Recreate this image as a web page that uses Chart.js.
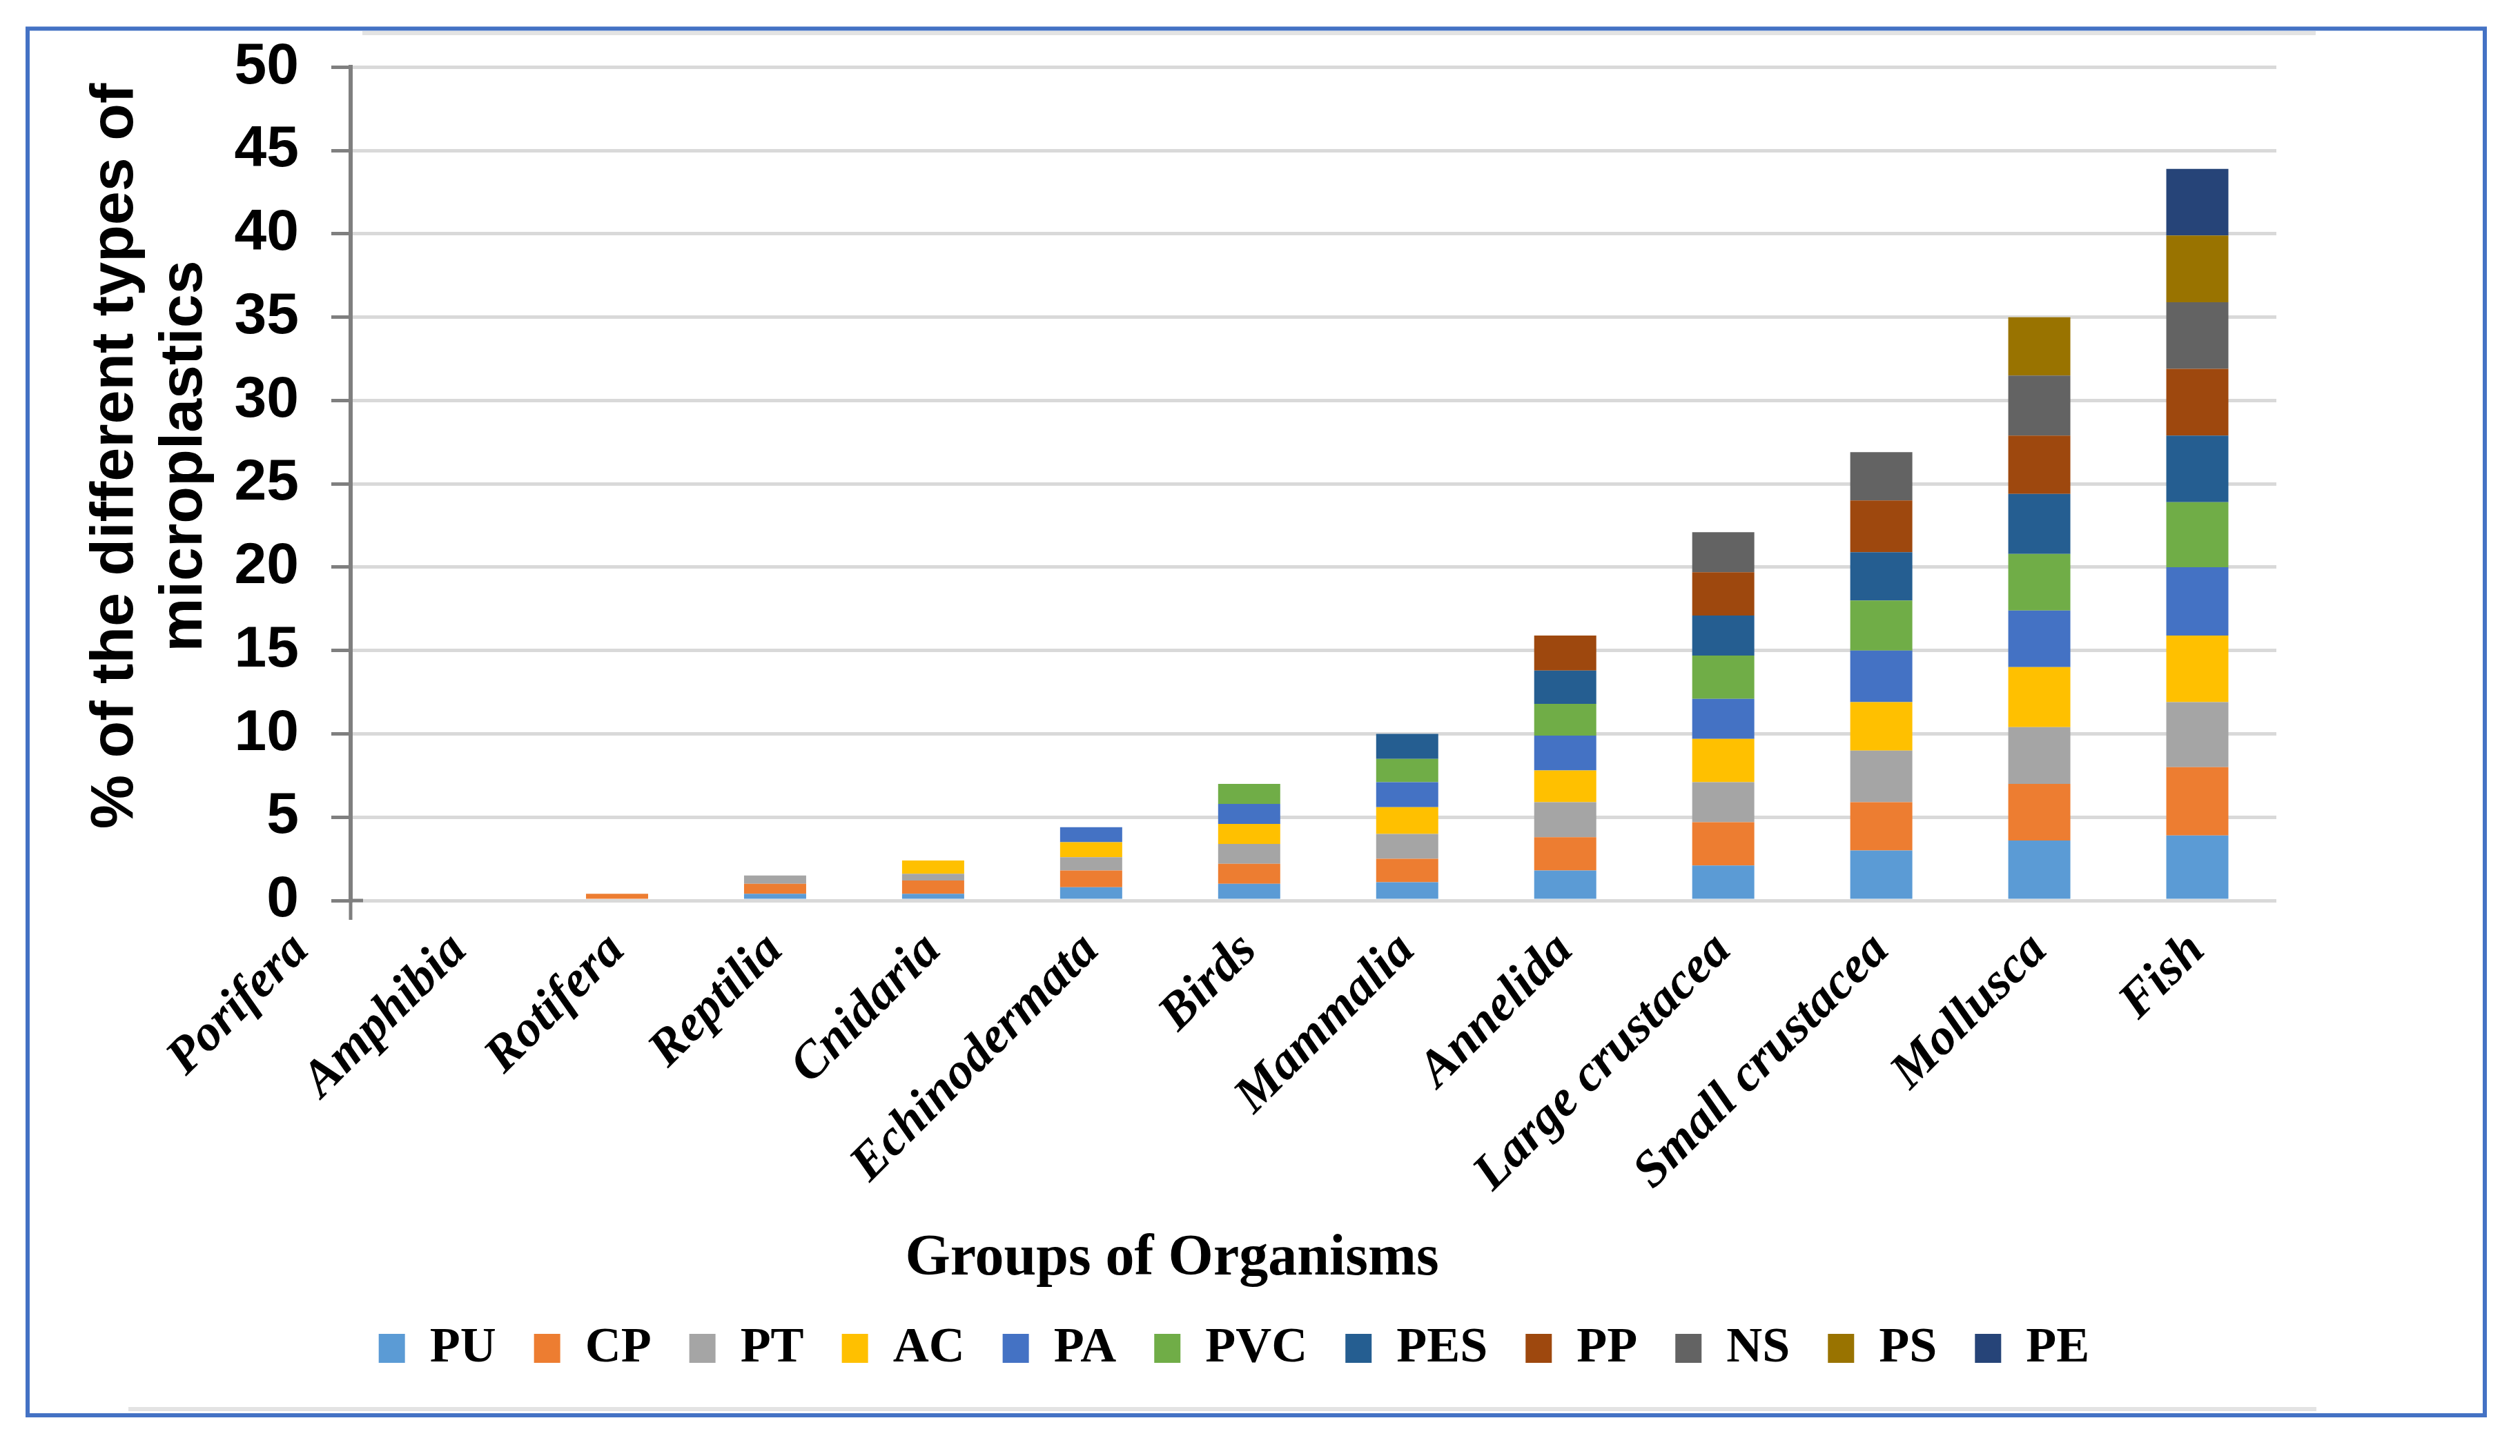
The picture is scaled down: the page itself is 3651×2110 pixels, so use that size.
<!DOCTYPE html>
<html>
<head>
<meta charset="utf-8">
<title>Microplastics in groups of organisms</title>
<script src="https://cdn.jsdelivr.net/npm/chart.js@4.4.1/dist/chart.umd.min.js"></script>
<style>
  html, body { margin: 0; padding: 0; background: #ffffff; }
  canvas { display: block; }
</style>
</head>
<body>
<canvas id="chart" width="3651" height="2110"></canvas>
<script>
// groups on the x axis
const organisms = ["Porifera", "Amphibia", "Rotifera", "Reptilia", "Cnidaria", "Echinodermata",
    "Birds", "Mammalia", "Annelida", "Large crustacea", "Small crustacea", "Mollusca", "Fish"];

// % of each type of microplastic, one value per group
const PU  = [0, 0, 0,   0.4, 0.4, 0.8, 1.0, 1.1, 1.8, 2.1, 3.0, 3.6, 3.9];
const CP  = [0, 0, 0.4, 0.6, 0.8, 1.0, 1.2, 1.4, 2.0, 2.6, 2.9, 3.4, 4.1];
const PT  = [0, 0, 0,   0.5, 0.4, 0.8, 1.2, 1.5, 2.1, 2.4, 3.1, 3.4, 3.9];
const AC  = [0, 0, 0,   0,   0.8, 0.9, 1.2, 1.6, 1.9, 2.6, 2.9, 3.6, 4.0];
const PA  = [0, 0, 0,   0,   0,   0.9, 1.2, 1.5, 2.1, 2.4, 3.1, 3.4, 4.1];
const PVC = [0, 0, 0,   0,   0,   0,   1.2, 1.4, 1.9, 2.6, 3.0, 3.4, 3.9];
const PES = [0, 0, 0,   0,   0,   0,   0,   1.5, 2.0, 2.4, 2.9, 3.6, 4.0];
const PP  = [0, 0, 0,   0,   0,   0,   0,   0,   2.1, 2.6, 3.1, 3.5, 4.0];
const NS  = [0, 0, 0,   0,   0,   0,   0,   0,   0,   2.4, 2.9, 3.6, 4.0];
const PS  = [0, 0, 0,   0,   0,   0,   0,   0,   0,   0,   0,   3.5, 4.0];
const PE  = [0, 0, 0,   0,   0,   0,   0,   0,   0,   0,   0,   0,   4.0];

const seriesNames  = ["PU", "CP", "PT", "AC", "PA", "PVC", "PES", "PP", "NS", "PS", "PE"];
const seriesValues = [PU, CP, PT, AC, PA, PVC, PES, PP, NS, PS, PE];
const seriesColors = ["#5b9bd5", "#ed7d31", "#a5a5a5", "#ffc000", "#4472c4", "#70ad47",
    "#255e91", "#9e480e", "#636363", "#997300", "#264478"];

const yTitleLines = ["% of the different types of", "microplastics"];
const xTitle = "Groups of Organisms";

const sansBold = "'Liberation Sans', Arial, sans-serif";
const serif = "'Liberation Serif', 'Times New Roman', serif";

// white page, the thin grey strips of the cropped figure, the axis cross and the blue frame
const framePlugin = {
    id: "frame",
    beforeDraw(chart) {
        const ctx = chart.ctx;
        ctx.save();
        ctx.fillStyle = "#ffffff";
        ctx.fillRect(0, 0, chart.width, chart.height);
        ctx.fillStyle = "#e3e3e3";
        ctx.fillRect(525, 45, 2830, 6);
        ctx.fillRect(186, 2039, 3170, 6);
        ctx.restore();
    },
    afterDraw(chart) {
        const ctx = chart.ctx;
        const area = chart.chartArea;
        ctx.save();
        // the category axis tick where the two axes cross
        ctx.strokeStyle = "#7f7f7f";
        ctx.lineWidth = 5;
        ctx.beginPath();
        ctx.moveTo(area.left, area.bottom);
        ctx.lineTo(area.left, area.bottom + 28);
        ctx.moveTo(area.left, area.bottom);
        ctx.lineTo(area.left + 18, area.bottom);
        ctx.stroke();
        ctx.strokeStyle = "#4472c4";
        ctx.lineWidth = 6;
        ctx.strokeRect(40, 41.5, 3560, 2009.5);
        ctx.restore();
    },
};

// axis titles
const titlesPlugin = {
    id: "axisTitles",
    afterDraw(chart) {
        const ctx = chart.ctx;
        ctx.save();
        ctx.fillStyle = "#000000";
        ctx.textAlign = "center";
        ctx.textBaseline = "alphabetic";
        ctx.font = "bold 84px " + serif;
        ctx.fillText(xTitle, 1698, 1847);
        ctx.font = "bold 88px " + sansBold;
        yTitleLines.forEach((line, i) => {
            ctx.save();
            ctx.translate(192 + i * 100, 661);
            ctx.rotate(-Math.PI / 2);
            ctx.fillText(line, 0, 0);
            ctx.restore();
        });
        ctx.restore();
    },
};

const datasets = seriesNames.map((name, k) => ({
    label: name,
    data: seriesValues[k].map((v, i) => ({ x: i, y: v })),
    backgroundColor: seriesColors[k],
    borderWidth: 0,
    categoryPercentage: 1,
    barPercentage: 0.393,
}));

new Chart(document.getElementById("chart"), {
    type: "bar",
    data: { datasets },
    plugins: [framePlugin, titlesPlugin],
    options: {
        responsive: false,
        devicePixelRatio: 1,
        animation: false,
        layout: { padding: { left: 278, right: 353, top: 93, bottom: 110 } },
        scales: {
            x: {
                type: "linear",
                stacked: true,
                offset: false,
                min: 0.314,   // the value axis crosses inside the first group
                max: 12.5,
                grid: { display: false, drawTicks: false },
                border: { display: false },
                afterBuildTicks: (scale) => {
                    scale.ticks = organisms.map((_, i) => ({ value: i }));
                },
                afterFit: (scale) => {
                    scale.height = 558;
                    scale.paddingLeft = 0;
                    scale.paddingRight = 0;
                },
                ticks: {
                    autoSkip: false,
                    minRotation: 45,
                    maxRotation: 45,
                    padding: 30,
                    color: "#000000",
                    font: { family: serif, size: 74, weight: "bold", style: "italic" },
                    callback: (value) => organisms[value],
                },
            },
            y: {
                stacked: true,
                min: 0,
                max: 50,
                afterFit: (scale) => {
                    scale.width = 230;
                },
                ticks: {
                    stepSize: 5,
                    padding: 47,
                    color: "#000000",
                    font: { family: sansBold, size: 84, weight: "bold" },
                },
                grid: {
                    color: "#d9d9d9",
                    lineWidth: 5,
                    tickLength: 28,
                    tickColor: "#7f7f7f",
                    tickWidth: 5,
                },
                border: { color: "#7f7f7f", width: 6 },
            },
        },
        plugins: {
            tooltip: { enabled: false },
            legend: {
                position: "bottom",
                labels: {
                    boxWidth: 38,
                    boxHeight: 42,
                    padding: 55,
                    color: "#000000",
                    font: { family: serif, size: 72, weight: "bold" },
                },
            },
        },
    },
});
</script>
</body>
</html>
